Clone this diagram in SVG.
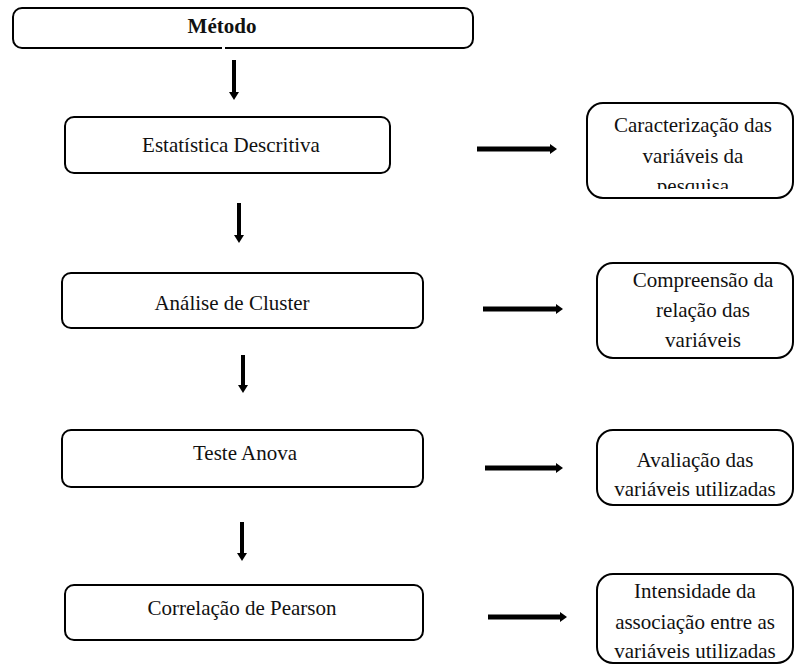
<svg xmlns="http://www.w3.org/2000/svg" width="795" height="665" viewBox="0 0 795 665">
<style>
.box{fill:#fff;stroke:#000;stroke-width:2}
.t{font-family:"Liberation Serif","Times New Roman",serif;font-size:21px;fill:#111;text-anchor:middle}
.b{font-weight:bold}
.v{stroke:#000;stroke-width:4;fill:none}
.h{stroke:#000;stroke-width:5;fill:none}
</style>
<defs>
<clipPath id="c1"><rect x="587" y="103" width="208" height="86"/></clipPath>
</defs>
<rect width="795" height="665" fill="#fff"/>
<g id="metodo">
<rect class="box" x="13" y="8" width="460" height="40" rx="9"/>
<rect x="222" y="46" width="3" height="4" fill="#fff"/>
<text class="t b" x="222" y="33">Método</text>
</g>
<g id="estatistica">
<rect class="box" x="65" y="117" width="325" height="56" rx="9"/>
<text class="t" x="231" y="152">Estatística  Descritiva</text>
</g>
<g id="cluster">
<rect class="box" x="62" y="273" width="361" height="55" rx="9"/>
<text class="t" x="232" y="310">Análise de Cluster</text>
</g>
<g id="anova">
<rect class="box" x="62" y="430" width="361" height="57" rx="9"/>
<text class="t" x="245" y="460">Teste Anova</text>
</g>
<g id="pearson">
<rect class="box" x="65" y="585" width="358" height="55" rx="9"/>
<text class="t" x="242" y="615">Correlação de Pearson</text>
</g>
<g id="caracterizacao">
<rect class="box" x="587" y="103" width="206" height="95" rx="16"/>
<g clip-path="url(#c1)">
<text class="t" x="693" y="132">Caracterização  das</text>
<text class="t" x="693" y="163">variáveis da</text>
<text class="t" x="693" y="193">pesquisa</text>
</g>
</g>
<g id="compreensao">
<rect class="box" x="597" y="263" width="196" height="95" rx="16"/>
<text class="t" x="703" y="287">Compreensão da</text>
<text class="t" x="703" y="317">relação das</text>
<text class="t" x="703" y="347">variáveis</text>
</g>
<g id="avaliacao">
<rect class="box" x="597" y="430" width="196" height="75" rx="16"/>
<text class="t" x="695" y="467">Avaliação das</text>
<text class="t" x="695" y="496">variáveis utilizadas</text>
</g>
<g id="intensidade">
<rect class="box" x="597" y="574" width="196" height="89" rx="16"/>
<text class="t" x="695" y="598">Intensidade da</text>
<text class="t" x="695" y="629">associação entre as</text>
<text class="t" x="695" y="658">variáveis utilizadas</text>
</g>
<g id="connectors">
<line class="v" x1="234" y1="60" x2="234" y2="93"/>
<polygon points="229,92 239,92 234,100"/>
<line class="v" x1="239" y1="203" x2="239" y2="236"/>
<polygon points="234,235 244,235 239,243"/>
<line class="v" x1="243" y1="355" x2="243" y2="386"/>
<polygon points="238,385 248,385 243,393"/>
<line class="v" x1="242" y1="522" x2="242" y2="554"/>
<polygon points="237,553 247,553 242,561"/>
<line class="h" x1="477" y1="149" x2="551" y2="149"/>
<polygon points="550,144 550,154 557,149"/>
<line class="h" x1="483" y1="309" x2="557" y2="309"/>
<polygon points="556,304 556,314 563,309"/>
<line class="h" x1="485" y1="468" x2="557" y2="468"/>
<polygon points="556,463 556,473 563,468"/>
<line class="h" x1="488" y1="617" x2="561" y2="617"/>
<polygon points="560,612 560,622 567,617"/>
</g>
</svg>
